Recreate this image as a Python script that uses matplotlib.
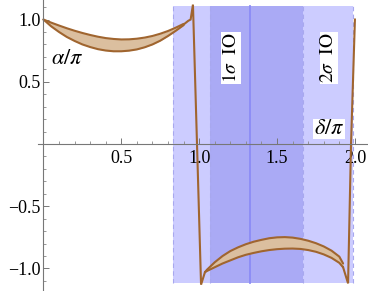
import matplotlib
matplotlib.use("Agg")
import matplotlib.pyplot as plt
import numpy as np
from matplotlib.ticker import FixedLocator

plt.rcParams['font.family'] = ['Liberation Serif', 'DejaVu Serif']
plt.rcParams['mathtext.fontset'] = 'stix'

# Left branch of the band (delta/pi from 0 to ~0.9)
x_left = [0.0, 0.05, 0.1, 0.15, 0.2, 0.25, 0.3, 0.35, 0.4, 0.45, 0.5,
          0.55, 0.6, 0.65, 0.7, 0.75, 0.8, 0.85, 0.9]
up_left = [1.0, 0.975, 0.952, 0.93, 0.91, 0.892, 0.876, 0.862, 0.851, 0.844, 0.84,
           0.841, 0.846, 0.855, 0.868, 0.886, 0.908, 0.935, 0.965]
lo_left = [1.0, 0.945, 0.90, 0.86, 0.828, 0.80, 0.779, 0.762, 0.751, 0.745, 0.745,
           0.75, 0.76, 0.777, 0.80, 0.83, 0.868, 0.91, 0.955]

# Jump near delta = pi
x_jump1 = [0.9, 0.93, 0.945, 0.96, 0.986, 1.012, 1.037]
y_jump1 = [0.96, 0.99, 1.0, 1.12, 0.0, -1.13, -1.03]

# Right branch of the band
x_right = [1.037, 1.05, 1.1, 1.15, 1.2, 1.25, 1.3, 1.35, 1.4, 1.45, 1.5,
           1.55, 1.6, 1.65, 1.7, 1.75, 1.8, 1.85, 1.9, 1.924]
up_right = [-1.03, -1.01, -0.95, -0.90, -0.86, -0.83, -0.805, -0.785, -0.77, -0.757, -0.75,
            -0.748, -0.752, -0.762, -0.777, -0.797, -0.823, -0.857, -0.905, -0.96]
lo_right = [-1.03, -1.02, -0.99, -0.96, -0.935, -0.91, -0.89, -0.875, -0.862, -0.852, -0.845,
            -0.841, -0.84, -0.843, -0.852, -0.866, -0.887, -0.915, -0.955, -0.99]

# Jump near delta = 2 pi
x_jump2 = [1.924, 1.956, 1.975, 2.0]
y_jump2 = [-0.99, -1.12, 0.0, 1.0]

# Confidence regions
sigma2 = [0.832, 1.99]
sigma1 = [1.069, 1.667]
best_fit = 1.326

xt = [0.5, 1.0, 1.5, 2.0]
yt = [-1.0, -0.5, 0.5, 1.0]
xt_minor = [0.1, 0.2, 0.3, 0.4, 0.6, 0.7, 0.8, 0.9, 1.1, 1.2, 1.3, 1.4,
            1.6, 1.7, 1.8, 1.9]
yt_minor = [-1.1, -0.9, -0.8, -0.7, -0.6, -0.4, -0.3, -0.2, -0.1,
            0.1, 0.2, 0.3, 0.4, 0.6, 0.7, 0.8, 0.9, 1.1]

line_c = '#a0652f'
fill_c = '#dbbf9f'

fig = plt.figure(figsize=(3.68, 2.91), dpi=100)
ax = fig.add_axes([0, 0, 1, 1])
ax.set_xlim(-0.279, 2.084)
ax.set_ylim(-1.181, 1.157)
ax.patch.set_alpha(0)

ytop, ybot = 1.105, -1.113
ax.fill_between(sigma2, ybot, ytop, color='#ccccff', lw=0, zorder=1)
ax.fill_between(sigma1, ybot, ytop, color='#aaaaf5', lw=0, zorder=1.1)
for xv in sigma2 + sigma1:
    ax.plot([xv, xv], [ybot, ytop], color='#a8a8ee', lw=0.8, ls=(0, (4, 3)), zorder=1.2)
ax.plot([best_fit, best_fit], [ybot, ytop], color='#8c8cf5', lw=1.3, zorder=1.3)

ax.fill_between(x_left, lo_left, up_left, color=fill_c, lw=0, zorder=2)
ax.plot(x_left, up_left, color=line_c, lw=1.5, zorder=3, solid_capstyle='round')
ax.plot(x_left, lo_left, color=line_c, lw=1.5, zorder=3, solid_capstyle='round')
ax.plot(x_jump1, y_jump1, color=line_c, lw=1.5, zorder=3, solid_joinstyle='miter')
ax.fill_between(x_right, lo_right, up_right, color=fill_c, lw=0, zorder=2)
ax.plot(x_right, up_right, color=line_c, lw=1.5, zorder=3, solid_capstyle='round')
ax.plot(x_right, lo_right, color=line_c, lw=1.5, zorder=3, solid_capstyle='round')
ax.plot(x_jump2, y_jump2, color=line_c, lw=1.5, zorder=3, solid_joinstyle='miter')

# axes through origin
for s in ['top', 'right']:
    ax.spines[s].set_visible(False)
ax.spines['left'].set_position(('data', 0))
ax.spines['bottom'].set_position(('data', 0))
ax.spines['bottom'].set_bounds(-0.035, 2.084)
for s in ['left', 'bottom']:
    ax.spines[s].set_color('#777777')
    ax.spines[s].set_linewidth(0.8)
    ax.spines[s].set_zorder(4)

ax.xaxis.set_major_locator(FixedLocator(xt))
ax.yaxis.set_major_locator(FixedLocator(yt))
ax.xaxis.set_minor_locator(FixedLocator(xt_minor))
ax.yaxis.set_minor_locator(FixedLocator(yt_minor))
ax.set_xticklabels([f'{v:.1f}' for v in xt])
ax.set_yticklabels([f'{v:.1f}'.replace('-', '\u2212') for v in yt])
ax.tick_params(which='major', direction='in', length=4, width=0.7, color='#777777',
               labelsize=13, zorder=4)
ax.tick_params(which='minor', direction='in', length=2.2, width=0.6, color='#888888')
ax.tick_params(axis='x', pad=4)
ax.tick_params(axis='y', pad=2)

ax.text(0.151, 0.675, r'$\alpha/\pi$', fontsize=16, ha='center', va='center', zorder=5)
ax.text(1.833, 0.12, r'$\delta/\pi$', fontsize=16, ha='center', va='center', zorder=5,
        bbox=dict(facecolor='white', edgecolor='none', pad=0.5))
ax.text(1.204, 0.69, r'$1\sigma\ \ \mathrm{IO}$', fontsize=14, rotation=90,
        ha='center', va='center', zorder=5,
        bbox=dict(facecolor='white', edgecolor='none', pad=0.5))
ax.text(1.833, 0.69, r'$2\sigma\ \ \mathrm{IO}$', fontsize=14, rotation=90,
        ha='center', va='center', zorder=5,
        bbox=dict(facecolor='white', edgecolor='none', pad=0.5))

fig.savefig('out.png', dpi=100)
